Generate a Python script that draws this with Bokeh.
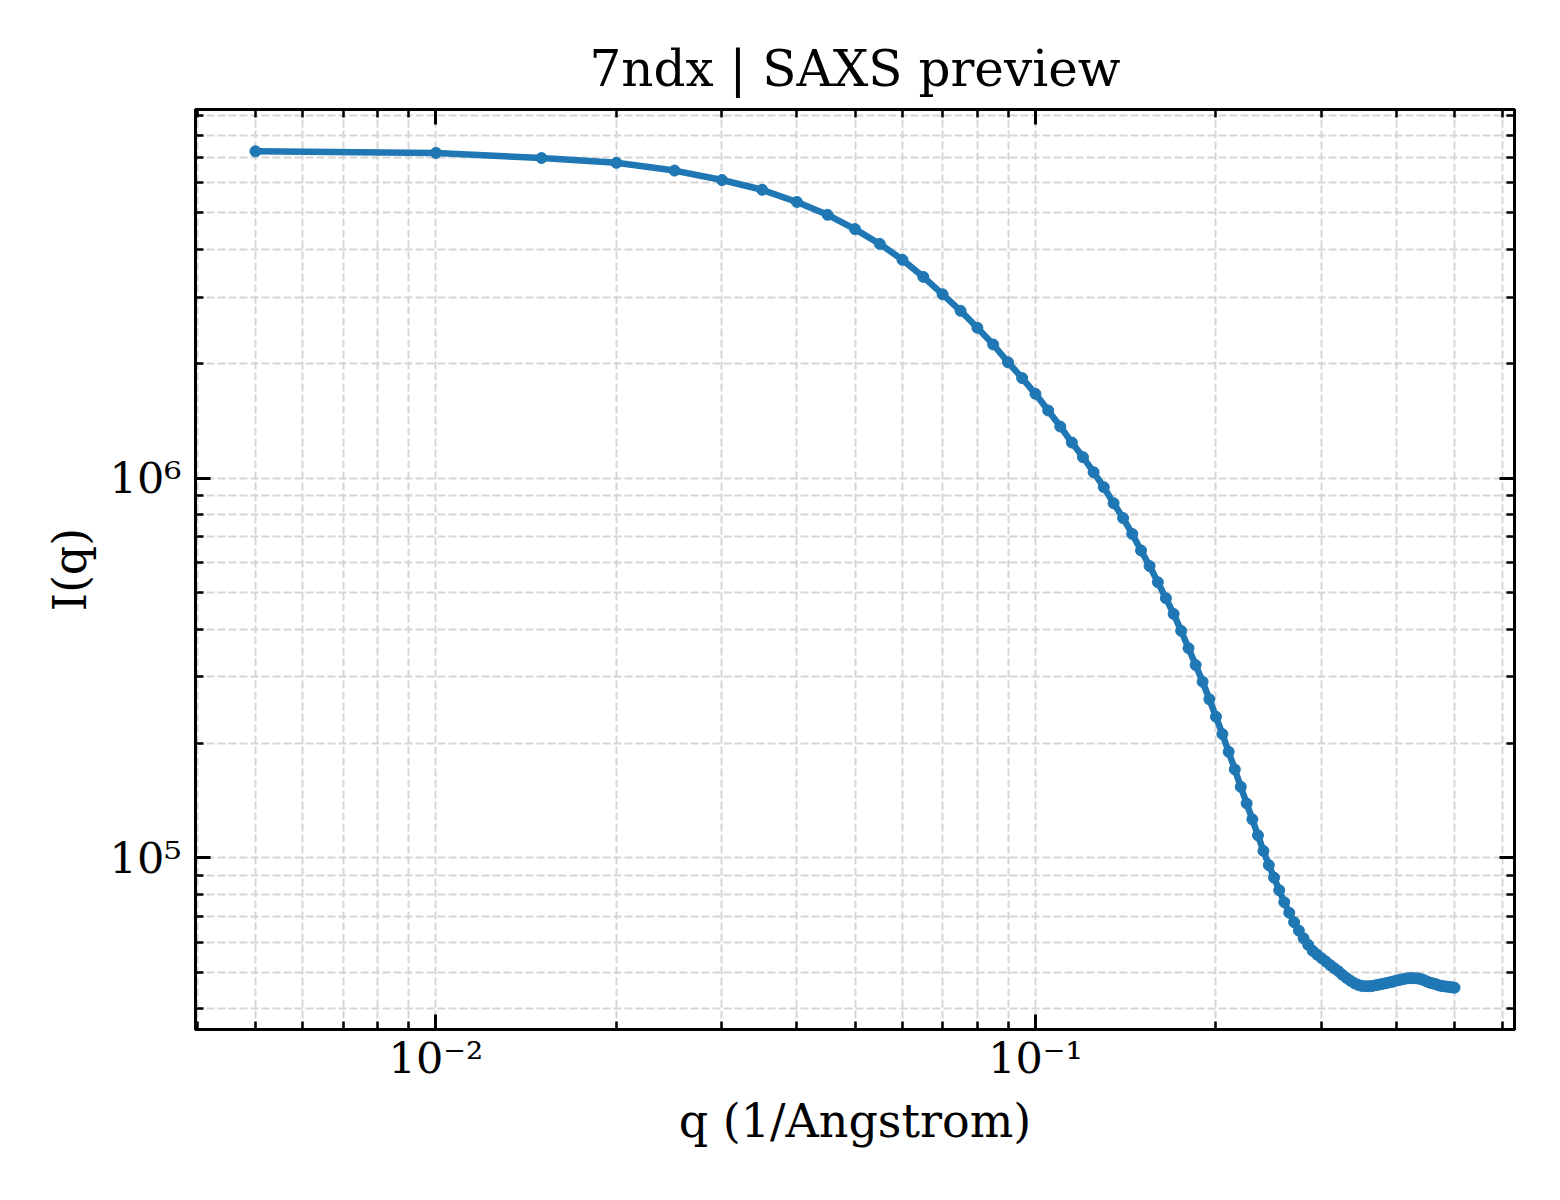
import numpy as np
from bokeh.plotting import figure
from bokeh.models import ColumnDataSource, Range1d, LogAxis, FixedTicker, CustomJSTickFormatter
from bokeh.embed import file_html
from bokeh.resources import INLINE

q = [0.005, 0.010, 0.015, 0.020, 0.025, 0.030, 0.035, 0.040, 0.045, 0.050,
     0.055, 0.060, 0.065, 0.070, 0.075, 0.080, 0.085, 0.090, 0.095, 0.100,
     0.105, 0.110, 0.115, 0.120, 0.125, 0.130, 0.135, 0.140, 0.145, 0.150,
     0.155, 0.160, 0.165, 0.170, 0.175, 0.180, 0.185, 0.190, 0.195, 0.200,
     0.205, 0.210, 0.215, 0.220, 0.225, 0.230, 0.235, 0.240, 0.245, 0.250,
     0.255, 0.260, 0.265, 0.270, 0.275, 0.280, 0.285, 0.290, 0.295, 0.300,
     0.305, 0.310, 0.315, 0.320, 0.325, 0.330, 0.335, 0.340, 0.345, 0.350,
     0.355, 0.360, 0.365, 0.370, 0.375, 0.380, 0.385, 0.390, 0.395, 0.400,
     0.405, 0.410, 0.415, 0.420, 0.425, 0.430, 0.435, 0.440, 0.445, 0.450,
     0.455, 0.460, 0.465, 0.470, 0.475, 0.480, 0.485, 0.490, 0.495, 0.500]

intensity = [7.26e6, 7.19e6, 6.97e6, 6.77e6, 6.46e6, 6.10e6, 5.75e6, 5.34e6, 4.94e6, 4.53e6,
             4.14e6, 3.76e6, 3.39e6, 3.05e6, 2.76e6, 2.49e6, 2.25e6, 2.02e6, 1.835e6, 1.668e6,
             1.508e6, 1.368e6, 1.241e6, 1.136e6, 1.037e6, 9.47e5, 8.59e5, 7.85e5, 7.13e5, 6.45e5,
             5.87e5, 5.32e5, 4.83e5, 4.39e5, 3.96e5, 3.565e5, 3.22e5, 2.91e5, 2.616e5, 2.353e5,
             2.118e5, 1.903e5, 1.71e5, 1.539e5, 1.391e5, 1.263e5, 1.146e5, 1.043e5, 9.57e4, 8.87e4,
             8.22e4, 7.64e4, 7.17e4, 6.77e4, 6.43e4, 6.14e4, 5.90e4, 5.69e4, 5.56e4, 5.44e4,
             5.33e4, 5.22e4, 5.12e4, 5.03e4, 4.92e4, 4.83e4, 4.75e4, 4.68e4, 4.63e4, 4.60e4,
             4.59e4, 4.59e4, 4.60e4, 4.62e4, 4.64e4, 4.66e4, 4.68e4, 4.70e4, 4.72e4, 4.75e4,
             4.77e4, 4.79e4, 4.81e4, 4.82e4, 4.82e4, 4.82e4, 4.81e4, 4.79e4, 4.76e4, 4.72e4,
             4.69e4, 4.67e4, 4.65e4, 4.62e4, 4.60e4, 4.59e4, 4.58e4, 4.57e4, 4.56e4, 4.55e4]

x_tick_values = [0.01, 0.1]
x_tick_labels = ["10\u207b\u00b2", "10\u207b\u00b9"]
y_tick_values = [1e5, 1e6]
y_tick_labels = ["10\u2075", "10\u2076"]

title = "7ndx | SAXS preview"
x_label = "q (1/Angstrom)"
y_label = "I(q)"

FONT = "DejaVu Serif"
BLUE = "#1f77b4"
GRID = "#d6d6d6"


def padded(vals, frac=0.05):
    # matplotlib-like 5% margin, taken in log space
    lo, hi = np.log10(min(vals)), np.log10(max(vals))
    pad = (hi - lo) * frac
    return Range1d(10 ** (lo - pad), 10 ** (hi + pad))


def minors(lo_exp, hi_exp):
    return [m * 10.0 ** e for e in range(lo_exp, hi_exp + 1) for m in range(2, 10)]


def labeller(vals, labs):
    return CustomJSTickFormatter(args=dict(vals=vals, labs=labs), code="""
        for (let i = 0; i < vals.length; i++) {
            if (Math.abs(Math.log10(tick) - Math.log10(vals[i])) < 1e-6) return labs[i];
        }
        return "";
    """)


p = figure(width=1552, height=1192, x_axis_type="log", y_axis_type="log",
           x_range=padded(q), y_range=padded(intensity),
           output_backend="svg", toolbar_location=None, title=title,
           min_border_left=195, min_border_right=38,
           min_border_top=109, min_border_bottom=163)

p.background_fill_color = "white"
p.border_fill_color = "white"
p.outline_line_color = "black"
p.outline_line_width = 3

p.title.text_font = FONT
p.title.text_font_size = "50px"
p.title.text_font_style = "normal"
p.title.text_color = "black"
p.title.align = "center"
p.title.standoff = 24

p.add_layout(LogAxis(), "above")
p.add_layout(LogAxis(), "right")

x_ticker = FixedTicker(ticks=x_tick_values, minor_ticks=minors(-3, -1))
y_ticker = FixedTicker(ticks=y_tick_values, minor_ticks=minors(4, 6))

for ax in p.xaxis:
    ax.ticker = x_ticker
for ax in p.yaxis:
    ax.ticker = y_ticker

for ax in p.xaxis + p.yaxis:
    ax.axis_line_color = "black"
    ax.axis_line_width = 3
    ax.major_tick_line_color = "black"
    ax.major_tick_line_width = 3
    ax.major_tick_in = 15
    ax.major_tick_out = 0
    ax.minor_tick_line_color = "black"
    ax.minor_tick_line_width = 2.5
    ax.minor_tick_in = 8
    ax.minor_tick_out = 0
    ax.major_label_text_font = FONT
    ax.major_label_text_font_size = "43px"
    ax.major_label_text_color = "black"
    ax.axis_label_text_font = FONT
    ax.axis_label_text_font_size = "46px"
    ax.axis_label_text_font_style = "normal"
    ax.axis_label_text_color = "black"

bottom, top = p.below[0], p.above[0]
left, right = p.left[0], p.right[0]

bottom.formatter = labeller(x_tick_values, x_tick_labels)
left.formatter = labeller(y_tick_values, y_tick_labels)
bottom.axis_label = x_label
left.axis_label = y_label
bottom.major_label_standoff = 3
left.major_label_standoff = 14
bottom.axis_label_standoff = 8
left.axis_label_standoff = 10

# mirror axes: ticks only
for ax in (top, right):
    ax.formatter = CustomJSTickFormatter(code="return '';")
    ax.major_label_text_font_size = "2px"
    ax.major_label_standoff = 0

for g in (p.xgrid[0], p.ygrid[0]):
    g.grid_line_color = GRID
    g.grid_line_width = 2
    g.grid_line_dash = "8 3"
    g.minor_grid_line_color = GRID
    g.minor_grid_line_width = 2
    g.minor_grid_line_dash = "8 3"

src = ColumnDataSource(data=dict(q=q, intensity=intensity))
p.line("q", "intensity", source=src, line_color=BLUE, line_width=6.5, line_join="round")
p.scatter("q", "intensity", source=src, size=11, fill_color=BLUE, line_color=BLUE, line_width=1)

open("out.html", "w").write(file_html(p, INLINE))
